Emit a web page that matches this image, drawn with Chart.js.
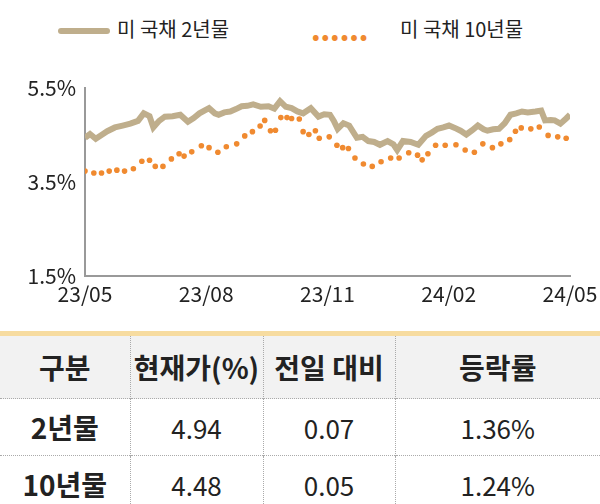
<!DOCTYPE html>
<html><head><meta charset="utf-8">
<script src="https://cdn.jsdelivr.net/npm/chart.js@4/dist/chart.umd.min.js"></script>
<style>
body{margin:0;background:#fff;font-family:"Noto Sans CJK KR",sans-serif;width:600px;height:504px;overflow:hidden;position:relative}
#leg{position:absolute;top:14px;left:0;width:600px;height:30px;font-size:20px;color:#222}
#cw{position:absolute;top:50px;left:0;width:600px;height:275px}
table{position:absolute;top:331px;left:0;width:600px;border-collapse:collapse;border-top:5px solid #f7dca0;table-layout:fixed}
td{text-align:center;border-left:1px dotted #aaa;font-size:26px;color:#222;padding:0;white-space:nowrap}
td:first-child{border-left:none;font-weight:bold;font-size:28px}
tr.h td{background:#f2f2f2;font-weight:bold;font-size:28px;height:62px}
tr.r td{height:56px;border-top:1px dotted #aaa}
</style></head><body>
<div id="leg">
<span style="position:absolute;left:58px;top:14px;width:52px;height:6px;background:#bfae8c;border-radius:3px"></span>
<span style="position:absolute;left:117px;top:0px">미 국채 2년물</span>
<span style="position:absolute;left:312px;top:7px;letter-spacing:2px;color:#f08a30;font-size:20px;font-weight:bold">••••••</span>
<span style="position:absolute;left:400px;top:0px">미 국채 10년물</span>
</div>
<div id="cw"><canvas id="c"></canvas></div>
<table>
<colgroup><col style="width:130px"><col style="width:133px"><col style="width:132px"><col style="width:205px"></colgroup>
<tr class="h"><td>구분</td><td>현재가(%)</td><td>전일 대비</td><td>등락률</td></tr>
<tr class="r"><td>2년물</td><td>4.94</td><td>0.07</td><td>1.36%</td></tr>
<tr class="r"><td>10년물</td><td>4.48</td><td>0.05</td><td>1.24%</td></tr>
</table>
<script>
const xLabels=["23/05","23/08","23/11","24/02","24/05"];
const px2=[222,235,250,265,280,300,320,340,360,375,390,400,415,430,450,470,490,505,520,545,560,570,585,600,615,630,645,660,680,700,715,730,745,760,775,790,810,830,845,860,870,880,895,910,930,945,960,975,990,1010,1025,1035,1050,1070,1090,1110,1125,1140,1155,1170,1185,1200,1215,1230,1245,1260,1270,1285,1300,1315,1330,1345,1360,1375,1395,1410,1420,1435,1445,1460,1475,1485];
const v2=[4.44,4.52,4.42,4.5,4.58,4.66,4.7,4.74,4.8,4.96,4.9,4.66,4.8,4.89,4.9,4.93,4.78,4.86,4.96,5.07,4.96,4.93,4.98,5.0,5.05,5.11,5.12,5.15,5.1,5.11,5.06,5.22,5.1,5.07,5.0,4.96,5.07,4.89,4.94,4.93,4.8,4.63,4.75,4.7,4.44,4.46,4.37,4.35,4.29,4.37,4.3,4.18,4.37,4.35,4.29,4.48,4.55,4.63,4.66,4.7,4.65,4.59,4.51,4.6,4.7,4.62,4.59,4.62,4.63,4.75,4.93,4.96,5.0,4.98,5.0,5.02,4.81,4.82,4.81,4.74,4.85,4.93];
const px10=[222,245,265,285,305,325,348,370,390,405,425,447,467,480,500,525,545,568,590,617,638,658,678,690,705,718,732,748,760,780,790,805,822,832,858,878,893,908,925,947,970,993,1018,1040,1065,1088,1100,1115,1135,1160,1188,1212,1236,1258,1283,1305,1328,1343,1358,1383,1405,1428,1453,1475];
const py10=[320,325,325,320,318,320,313,292,290,307,307,285,270,277,265,248,253,267,250,242,220,207,192,176,205,203,167,168,170,172,208,215,205,226,222,247,253,256,282,300,307,294,282,282,268,275,288,270,247,247,245,260,267,242,253,242,230,206,197,199,194,219,223,226];
const toM=p=>(p-222)/1263*12;
const toV=p=>+(5.5-(p-83)/134).toFixed(2);
const d2=px2.map((p,i)=>({x:toM(p),y:v2[i]}));
const d10=px10.map((p,i)=>({x:toM(p),y:toV(py10[i])}));
new Chart(document.getElementById('c'),{
 type:'line',
 data:{datasets:[
  {data:d2,borderColor:'#bfae8c',borderWidth:6,pointRadius:0,tension:0},
  {data:d10,showLine:false,pointRadius:2.8,pointBackgroundColor:'#f08a30',pointBorderWidth:0}
 ]},
 options:{responsive:true,maintainAspectRatio:false,animation:false,
  layout:{padding:{top:38,right:30,left:0,bottom:18}},
  plugins:{legend:{display:false},tooltip:{enabled:false}},
  scales:{
   x:{type:'linear',min:0,max:12,
      ticks:{stepSize:3,autoSkip:false,maxRotation:0,color:'#222',font:{family:'Noto Sans CJK KR',size:21},padding:0,callback:v=>xLabels[v/3]},
      grid:{display:false,drawTicks:true,tickLength:6,tickColor:'#999'},border:{color:'#999',width:2}},
   y:{min:1.5,max:5.5,
      ticks:{stepSize:2,color:'#222',font:{family:'Noto Sans CJK KR',size:21},callback:v=>v.toFixed(1)+'%'},
      grid:{display:false,tickLength:6,tickColor:'#999'},border:{color:'#999',width:2},
      afterFit:s=>{s.width=85}}
  }}
});
</script>
</body></html>
